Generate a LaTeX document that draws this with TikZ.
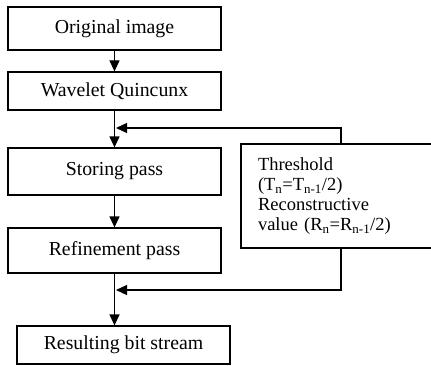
\documentclass[tikz,border=0pt]{standalone}
\usepackage{fontspec}
\setmainfont{Liberation Serif}
\usetikzlibrary{arrows.meta}
\begin{document}
\begin{tikzpicture}[x=1pt,y=1pt,
  box/.style={draw,line width=1.2pt,minimum width=213pt,inner sep=0pt,font=\fontsize{19.8}{21}\selectfont},
  arr/.style={line width=1.2pt,-{Triangle[length=11pt,width=10pt]}},
  ln/.style={line width=1.2pt}]
\useasboundingbox (0,0) rectangle (431,365);
\node[box,minimum height=43pt] (orig) at (114.5,336.5) {Original image};
\node[box,minimum height=38pt] (wav) at (114.5,274) {Wavelet Quincunx};
\node[box,minimum height=47pt] (stor) at (114.5,193.5) {Storing pass};
\node[box,minimum height=45pt] (ref) at (114.5,114.5) {Refinement pass};
\node[box,minimum height=38pt] (res) at (123.5,20) {Resulting bit stream};
\node[box,font=\fontsize{18.5}{20}\selectfont,minimum width=193pt,minimum height=104pt,text width=159pt,align=left] (thr) at (337.5,169)
  {Threshold\\(T\textsubscript{n}=T\textsubscript{n-1}/2)\\Reconstructive\\value (R\textsubscript{n}=R\textsubscript{n-1}/2)};
\coordinate (fb) at (341,0);
\coordinate (j1) at (116,237);
\coordinate (j2) at (116,75);
\draw[arr] (orig.south) -- (wav.north);
\draw[arr] (wav.south) -- (stor.north);
\draw[arr] (stor.south) -- (ref.north);
\draw[arr] (ref.south) -- (ref.south |- res.north);
\draw[arr] (thr.north -| fb) |- (j1);
\draw[arr] (thr.south -| fb) |- (j2);
\end{tikzpicture}
\end{document}
